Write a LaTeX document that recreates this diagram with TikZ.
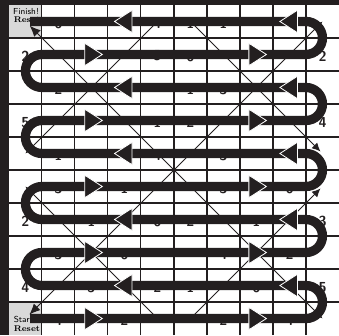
\documentclass[tikz,border=0pt]{standalone}
\usepackage{tikz}
\usetikzlibrary{arrows.meta}
\definecolor{boardink}{HTML}{231F20}
\definecolor{resetgray}{HTML}{D9D9D9}

\begin{document}
\begin{tikzpicture}[x=1cm,y=1cm,>=Latex,
    gridline/.style={line width=0.95pt, boardink},
    track/.style={line width=0.28cm, boardink},
    headtri/.style={fill=boardink, draw=white, line width=0.7pt},
    chute/.style={line width=0.8pt, boardink},
    cellnum/.style={font=\sffamily\bfseries\fontsize{12.5}{13}\selectfont, text=boardink, inner sep=0pt},
    lbl/.style={font=\sffamily\fontsize{7.5}{8}\selectfont, inner sep=0pt},
    rlbl/.style={font=\rmfamily\bfseries\fontsize{7.2}{8}\selectfont, inner sep=0pt}]
    \useasboundingbox (-0.27,0) rectangle (10,10.15);

    % start and finish squares
    \fill[resetgray] (0,9) rectangle (1,10);
    \fill[resetgray] (0,0) rectangle (1,1);

    % grid
    \foreach \i in {1,...,9} {
        \draw[gridline] (\i,0) -- (\i,10);
        \draw[gridline] (0,\i) -- (10,\i);
    }

    % numbers in the squares (column/row from top/value)
    \foreach \c/\r/\d in {1/0/6,4/0/4,5/0/1,6/0/1,
                          0/1/2,4/1/5,5/1/6,9/1/2,
                          1/2/2,5/2/1,6/2/3,
                          0/3/5,4/3/1,5/3/2,9/3/4,
                          1/4/1,4/4/4,6/4/3,
                          1/5/3,3/5/1,6/5/3,8/5/6,
                          0/6/2,2/6/1,4/6/6,5/6/2,7/6/1,9/6/3,
                          1/7/3,3/7/6,6/7/4,8/7/2,
                          0/8/4,2/8/5,4/8/2,5/8/1,7/8/6,9/8/5,
                          1/9/4,3/9/2,6/9/2,8/9/4} {
        \node[cellnum] (num-\c-\r) at (\c+0.5,9.45-\r) {\d};
    }

    \node[lbl] (finish) at (0.52,9.79) {Finish!};
    \node[rlbl, anchor=west] (resetF) at (0.14,9.55) {Reset};
    \node[lbl, anchor=west] (start) at (0.14,0.47) {Start};
    \node[rlbl, anchor=west] (resetS) at (0.14,0.2) {Reset};

    % diagonal shortcuts
    \draw[chute, {Latex[length=3.3mm,width=2.8mm]}-{Latex[length=2.6mm,width=2.4mm]}] (0.63,9.37) -- (9.5,0.5);
    \draw[chute, {Latex[length=3.3mm,width=2.8mm]}-{Latex[length=2.6mm,width=2.4mm]}] (0.62,0.62) -- (9.5,9.5);
    \draw[chute, -{Latex[length=2.6mm,width=2.4mm]}] (4.5,9.5) -- (0.5,5.5);
    \draw[chute, -{Latex[length=2.6mm,width=2.4mm]}] (5.5,9.5) -- (9.44,5.56);
    \draw[chute, -{Latex[length=2.6mm,width=2.4mm]}] (4.5,0.5) -- (0.5,4.5);
    \draw[chute, -{Latex[length=2.6mm,width=2.4mm]}] (5.5,0.5) -- (9.44,4.44);

    % the winding track
    \draw[track] (0.64,0.5) \foreach \k in {0,...,3} {
        -- (9,2*\k+0.5) arc(-90:90:0.5) -- (1,2*\k+1.5) arc(270:90:0.5) }
        -- (9,8.5) arc(-90:90:0.5) -- (0.64,9.5);

    % direction marks
    \foreach \y in {0.5,2.5,4.5,6.5,8.5} {
        \foreach \xb in {2.3,7.27} {
            \filldraw[headtri] (\xb+0.53,\y) -- (\xb,\y+0.34) -- (\xb,\y-0.34) -- cycle;
        }
    }
    \foreach \y in {1.5,3.5,5.5,7.5,9.5} {
        \foreach \xt in {3.2,8.21} {
            \filldraw[headtri] (\xt,\y) -- (\xt+0.53,\y+0.34) -- (\xt+0.53,\y-0.34) -- cycle;
        }
    }

    % frame
    \fill[boardink] (-0.27,0) rectangle (0,10.15);
    \fill[boardink] (-0.27,10) rectangle (10,10.15);
\end{tikzpicture}
\end{document}
